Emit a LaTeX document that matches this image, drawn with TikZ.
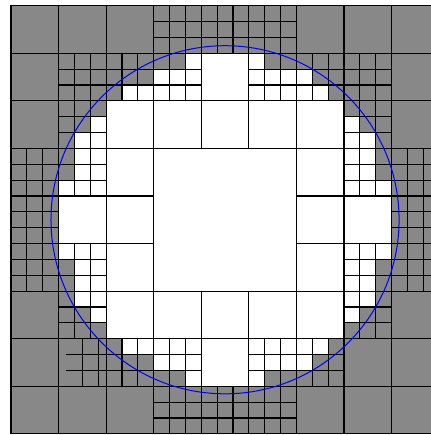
\documentclass[tikz,border=0pt]{standalone}
\usepackage{xcolor}
\usepackage{tikz}
\definecolor{cellgray}{HTML}{888888}
\definecolor{levelblue}{HTML}{0000FF}

\begin{document}
\begin{tikzpicture}[
  x=1cm,y=-1cm,
  cell/.style={draw=black,line width=0.7pt},
  outcell/.style={cell,fill=cellgray},
  incell/.style={cell,fill=white},
  level/.style={draw=levelblue,line width=0.6pt}
]
\useasboundingbox (-0.231,-0.12) rectangle (8.829,9.025);
\clip (-0.231,-0.12) rectangle (8.829,9.025);

% coarse 9x9 cells, cut by the circle -> split 3x3
% distances in sixths of a cell, squared radius = 482/36
\foreach \ci in {0,...,8}{
  \foreach \cj in {0,...,8}{
    \pgfmathtruncatemacro\pmin{(6*\ci-27)*(6*\ci-21)<0 ? 0 : min(abs(6*\ci-27),abs(6*\ci-21))}
    \pgfmathtruncatemacro\qmin{(6*\cj-27)*(6*\cj-21)<0 ? 0 : min(abs(6*\cj-27),abs(6*\cj-21))}
    \pgfmathtruncatemacro\pmax{max(abs(6*\ci-27),abs(6*\ci-21))}
    \pgfmathtruncatemacro\qmax{max(abs(6*\cj-27),abs(6*\cj-21))}
    \pgfmathtruncatemacro\vmin{\pmin*\pmin+\qmin*\qmin}
    \pgfmathtruncatemacro\vmax{\pmax*\pmax+\qmax*\qmax}
    \ifnum\vmin>482
      \filldraw[outcell] (\ci,\cj) rectangle ++(1,1);
    \else\ifnum\vmax<482
      \filldraw[incell] (\ci,\cj) rectangle ++(1,1);
    \else
      \foreach \sx in {0,1,2}{
        \foreach \sy in {0,1,2}{
          \pgfmathtruncatemacro\pp{max(abs(6*\ci+2*\sx-27),abs(6*\ci+2*\sx-25))}
          \pgfmathtruncatemacro\qq{max(abs(6*\cj+2*\sy-27),abs(6*\cj+2*\sy-25))}
          \pgfmathtruncatemacro\vv{\pp*\pp+\qq*\qq}
          \ifnum\vv>482
            \filldraw[outcell] (\ci+\sx/3,\cj+\sy/3) rectangle ++(1/3,1/3);
          \else
            \filldraw[incell] (\ci+\sx/3,\cj+\sy/3) rectangle ++(1/3,1/3);
          \fi
        }
      }
    \fi\fi
  }
}

% middle block stays one big cell
\filldraw[incell] (3,3) rectangle ++(3,3);

% corners on the circle, came out outside
\filldraw[outcell] (2+2/3,1+1/3) rectangle ++(1/3,1/3);
\filldraw[outcell] (2+2/3,7+1/3) rectangle ++(1/3,1/3);

% two cut cells left coarse
\filldraw[outcell] (1,7) rectangle ++(1,1);
\filldraw[outcell] (7,7) rectangle ++(1,1);
\draw[cell] (1.5,7) -- (1.5,8);
\draw[cell] (1+5/6,7) -- (1+5/6,8);
\draw[cell] (1+1/6,7+1/3) -- (2,7+1/3);
\draw[cell] (1+1/6,7+2/3) -- (2+1/6,7+2/3);

% zero level set
\draw[level] (4.5,4.5) circle ({sqrt(482)/6});
\end{tikzpicture}
\end{document}
